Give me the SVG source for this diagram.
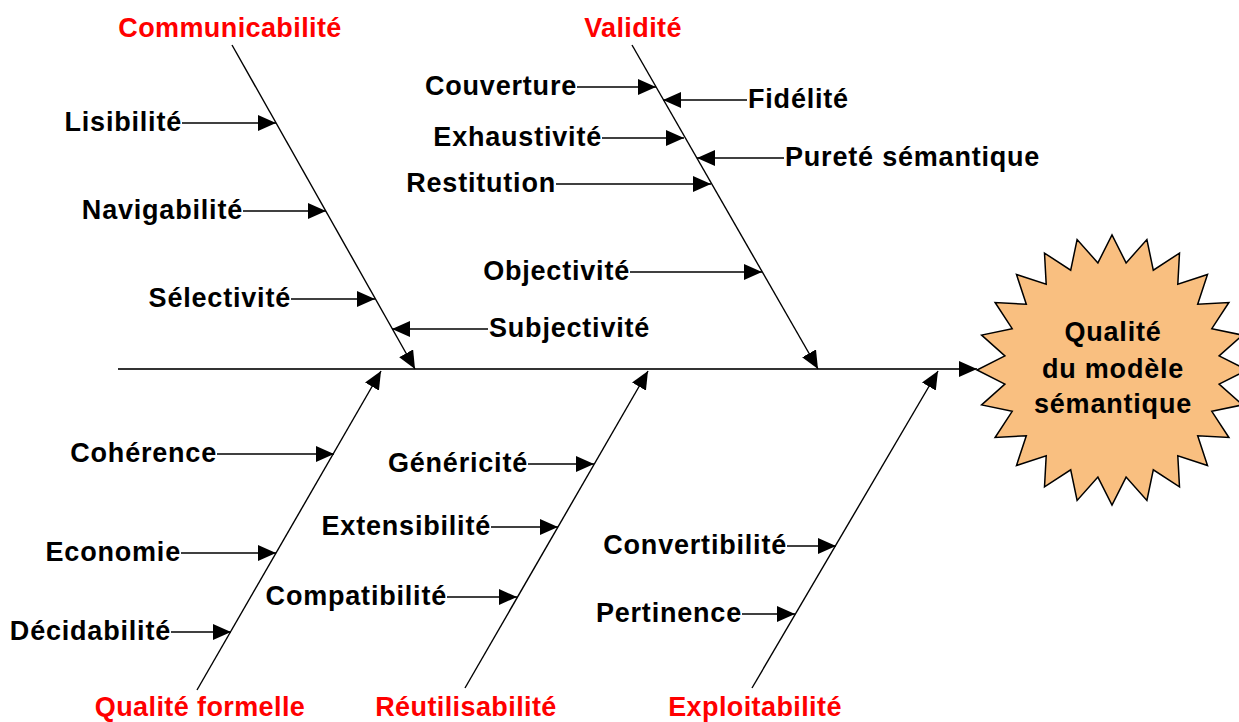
<svg xmlns="http://www.w3.org/2000/svg" width="1239" height="722" viewBox="0 0 1239 722">
<style>
.lbl{font-family:"Liberation Sans",Arial,sans-serif;font-weight:bold;font-size:27px;fill:#000;letter-spacing:0.8px}
.cat{font-family:"Liberation Sans",Arial,sans-serif;font-weight:bold;font-size:27px;fill:#ff0000;text-anchor:middle;letter-spacing:0.4px}
.l{text-anchor:end}
.bone{stroke:#000;stroke-width:1.4;fill:none}
.sub{stroke:#000;stroke-width:1.5;fill:none;marker-end:url(#ah)}
</style>
<defs>
<marker id="ah" viewBox="0 0 18 16" markerWidth="18" markerHeight="16" markerUnits="userSpaceOnUse" refX="18" refY="8" orient="auto">
<path d="M0,0 L18,8 L0,16 z" fill="#000"/>
</marker>
</defs>
<rect width="1239" height="722" fill="#fff"/>
<g id="effect">
<polygon transform="translate(1112,370)" fill="#F9BF80" stroke="#000" stroke-width="1.5" points="135,0 107.1,14.1 130.4,34.9 99.8,41.3 116.9,67.5 85.7,65.8 95.5,95.5 65.8,85.7 67.5,116.9 41.3,99.8 34.9,130.4 14.1,107.1 0,135 -14.1,107.1 -34.9,130.4 -41.3,99.8 -67.5,116.9 -65.8,85.7 -95.5,95.5 -85.7,65.8 -116.9,67.5 -99.8,41.3 -130.4,34.9 -107.1,14.1 -135,0 -107.1,-14.1 -130.4,-34.9 -99.8,-41.3 -116.9,-67.5 -85.7,-65.8 -95.5,-95.5 -65.8,-85.7 -67.5,-116.9 -41.3,-99.8 -34.9,-130.4 -14.1,-107.1 0,-135 14.1,-107.1 34.9,-130.4 41.3,-99.8 67.5,-116.9 65.8,-85.7 95.5,-95.5 85.7,-65.8 116.9,-67.5 99.8,-41.3 130.4,-34.9 107.1,-14.1"/>
<text class="lbl" text-anchor="middle" x="1113" y="341">Qualité</text>
<text class="lbl" text-anchor="middle" x="1113" y="378">du modèle</text>
<text class="lbl" text-anchor="middle" x="1113" y="413">sémantique</text>
</g>
<g id="connectors">
<line x1="118" y1="369" x2="977" y2="369" stroke="#333" stroke-width="2" marker-end="url(#ah)"/>
<line class="bone" x1="232" y1="45" x2="415" y2="369" marker-end="url(#ah)"/>
<line class="bone" x1="632" y1="45" x2="818" y2="369" marker-end="url(#ah)"/>
<line class="bone" x1="197" y1="690" x2="381" y2="371" marker-end="url(#ah)"/>
<line class="bone" x1="465" y1="688" x2="648" y2="371" marker-end="url(#ah)"/>
<line class="bone" x1="752" y1="688" x2="938" y2="371" marker-end="url(#ah)"/>
<line class="sub" x1="182" y1="123" x2="276" y2="123"/>
<line class="sub" x1="243" y1="211" x2="326" y2="211"/>
<line class="sub" x1="291" y1="299" x2="375" y2="299"/>
<line class="sub" x1="488" y1="329" x2="392" y2="329"/>
<line class="sub" x1="577" y1="87" x2="656" y2="87"/>
<line class="sub" x1="747" y1="100" x2="663" y2="100"/>
<line class="sub" x1="602" y1="138" x2="684" y2="138"/>
<line class="sub" x1="784" y1="158" x2="697" y2="158"/>
<line class="sub" x1="556" y1="184" x2="711" y2="184"/>
<line class="sub" x1="630" y1="272" x2="762" y2="272"/>
<line class="sub" x1="217" y1="454" x2="334" y2="454"/>
<line class="sub" x1="181" y1="553" x2="276" y2="553"/>
<line class="sub" x1="171" y1="632" x2="231" y2="632"/>
<line class="sub" x1="528" y1="464" x2="594" y2="464"/>
<line class="sub" x1="491" y1="527" x2="558" y2="527"/>
<line class="sub" x1="447" y1="597" x2="517" y2="597"/>
<line class="sub" x1="787" y1="546" x2="836" y2="546"/>
<line class="sub" x1="742" y1="614" x2="795" y2="614"/>
</g>
<g id="communicabilite">
<text class="cat" x="230" y="37">Communicabilité</text>
<text class="lbl l" x="182" y="131">Lisibilité</text>
<text class="lbl l" x="243" y="219">Navigabilité</text>
<text class="lbl l" x="291" y="307">Sélectivité</text>
<text class="lbl" x="489" y="337">Subjectivité</text>
</g>
<g id="validite">
<text class="cat" x="633" y="37">Validité</text>
<text class="lbl l" x="577" y="95">Couverture</text>
<text class="lbl" x="748" y="108">Fidélité</text>
<text class="lbl l" x="602" y="146">Exhaustivité</text>
<text class="lbl" x="785" y="166">Pureté sémantique</text>
<text class="lbl l" x="556" y="192">Restitution</text>
<text class="lbl l" x="630" y="280">Objectivité</text>
</g>
<g id="qualite-formelle">
<text class="cat" x="200" y="716">Qualité formelle</text>
<text class="lbl l" x="217" y="462">Cohérence</text>
<text class="lbl l" x="181" y="561">Economie</text>
<text class="lbl l" x="171" y="640">Décidabilité</text>
</g>
<g id="reutilisabilite">
<text class="cat" x="466" y="716">Réutilisabilité</text>
<text class="lbl l" x="528" y="472">Généricité</text>
<text class="lbl l" x="491" y="535">Extensibilité</text>
<text class="lbl l" x="447" y="605">Compatibilité</text>
</g>
<g id="exploitabilite">
<text class="cat" x="755" y="716">Exploitabilité</text>
<text class="lbl l" x="787" y="554">Convertibilité</text>
<text class="lbl l" x="742" y="622">Pertinence</text>
</g>
</svg>
